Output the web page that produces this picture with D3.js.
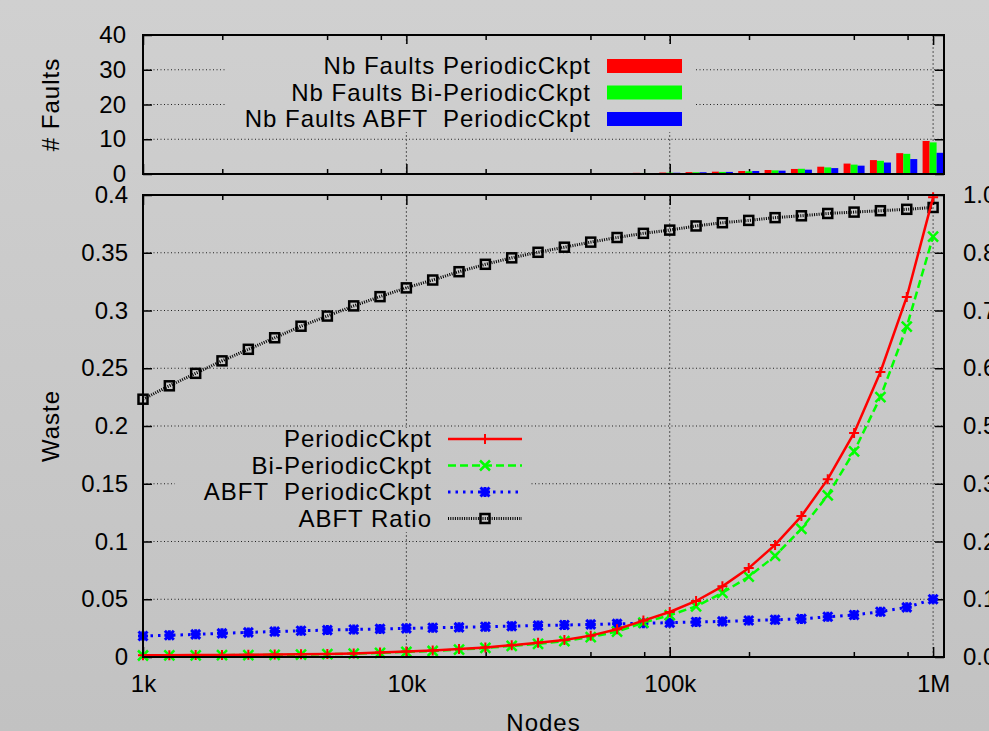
<!DOCTYPE html>
<html>
<head>
<meta charset="utf-8">
<script src="https://cdn.jsdelivr.net/npm/d3@7"></script>
<style>
  body { margin: 0; }
  svg { display: block; font-family: "Liberation Sans", Arial, sans-serif; }
  text { white-space: pre; }
</style>
</head>
<body>
<div class="chart"></div>
<script>
// nodes (x values) and series
let nodes = [1000, 1259, 1585, 1995, 2512, 3162, 3981, 5012, 6310, 7943,
             10000, 12589, 15849, 19953, 25119, 31623, 39811, 50119, 63096, 79433,
             100000, 125893, 158489, 199526, 251189, 316228, 398107, 501187, 630957, 794328, 1000000]

let wastePeriodic = [0.0015, 0.0016, 0.0017, 0.0018, 0.0019, 0.0021, 0.0023, 0.0026, 0.0031, 0.0038,
                     0.0048, 0.0057, 0.0069, 0.0083, 0.0102, 0.0123, 0.0148, 0.0185, 0.0240, 0.0315,
                     0.0390, 0.0485, 0.0612, 0.0770, 0.0970, 0.1220, 0.1540, 0.1940, 0.2468, 0.3117, 0.3980]
let wasteBiPeriodic = [0.0013, 0.0014, 0.0015, 0.0016, 0.0017, 0.0019, 0.0021, 0.0024, 0.0029, 0.0035,
                       0.0044, 0.0052, 0.0064, 0.0078, 0.0096, 0.0114, 0.0138, 0.0172, 0.0220, 0.0298,
                       0.0362, 0.0438, 0.0556, 0.0695, 0.0875, 0.1110, 0.1400, 0.1780, 0.2250, 0.2860, 0.3640]
let wasteAbft = [0.0182, 0.0188, 0.0196, 0.0205, 0.0213, 0.0220, 0.0227, 0.0233, 0.0238, 0.0243,
                 0.0248, 0.0253, 0.0257, 0.0262, 0.0267, 0.0272, 0.0277, 0.0282, 0.0287, 0.0292,
                 0.0297, 0.0303, 0.0308, 0.0316, 0.0322, 0.0330, 0.0348, 0.0364, 0.0392, 0.0430, 0.0500]
let abftRatio = [0.558, 0.587, 0.614, 0.641, 0.666, 0.691, 0.716, 0.738, 0.760, 0.780,
                 0.799, 0.816, 0.834, 0.850, 0.864, 0.876, 0.887, 0.898, 0.908, 0.917,
                 0.924, 0.933, 0.940, 0.945, 0.951, 0.955, 0.960, 0.963, 0.966, 0.969, 0.973]

let faultsPeriodic = [0.002, 0.003, 0.004, 0.005, 0.007, 0.009, 0.012, 0.016, 0.021, 0.027,
                      0.035, 0.045, 0.058, 0.075, 0.095, 0.12, 0.16, 0.2, 0.26, 0.33,
                      0.42, 0.55, 0.67, 0.86, 1.15, 1.45, 2.1, 3.0, 4.0, 6.0, 9.5]
let faultsBiPeriodic = [0.002, 0.003, 0.004, 0.005, 0.006, 0.008, 0.011, 0.015, 0.019, 0.025,
                        0.032, 0.041, 0.053, 0.069, 0.087, 0.11, 0.15, 0.18, 0.24, 0.3,
                        0.39, 0.5, 0.6, 0.77, 1.05, 1.5, 1.9, 2.7, 3.8, 5.8, 9.1]
let faultsAbft = [0.002, 0.003, 0.004, 0.005, 0.006, 0.008, 0.011, 0.014, 0.018, 0.023,
                  0.03, 0.038, 0.05, 0.064, 0.08, 0.1, 0.13, 0.17, 0.22, 0.28,
                  0.36, 0.5, 0.6, 0.86, 0.96, 1.24, 1.7, 2.4, 3.3, 4.3, 6.1]

let xTicks = [1000, 10000, 100000, 1000000]
let xTickLabels = ['1k', '10k', '100k', '1M']
let xMinor = [2000, 5000, 8000, 20000, 50000, 80000, 200000, 500000, 800000]
let yTicks = [0, 0.05, 0.1, 0.15, 0.2, 0.25, 0.3, 0.35, 0.4]
let yTickLabels = ['0', '0.05', '0.1', '0.15', '0.2', '0.25', '0.3', '0.35', '0.4']
let y2Ticks = [0, 0.125, 0.25, 0.375, 0.5, 0.625, 0.75, 0.875, 1]
let y2TickLabels = ['0.0', '0.1', '0.2', '0.3', '0.5', '0.6', '0.7', '0.8', '1.0']
let faultTicks = [0, 10, 20, 30, 40]

let width = 989
let height = 731
let left = 143, right = 944
let mainTop = 195, mainBottom = 657
let topTop = 35, topBottom = 174
let fs = 24

let svg = d3.select('.chart').append('svg')
    .attr('width', width).attr('height', height)

let grad = svg.append('defs').append('linearGradient')
    .attr('id', 'bg').attr('gradientUnits', 'userSpaceOnUse')
    .attr('x1', 0).attr('y1', 0).attr('x2', 0).attr('y2', height)
grad.append('stop').attr('offset', 0).attr('stop-color', '#d0d0d0')
grad.append('stop').attr('offset', 1).attr('stop-color', '#c2c2c2')

svg.append('rect').attr('width', width).attr('height', height).attr('fill', 'url(#bg)')

let x = d3.scaleLog().domain([1000, 1100000]).range([left, right])
let y = d3.scaleLinear().domain([0, 0.4]).range([mainBottom, mainTop])
let y2 = d3.scaleLinear().domain([0, 1]).range([mainBottom, mainTop])
let yf = d3.scaleLinear().domain([0, 40]).range([topBottom, topTop])

// ---------- grids ----------
function hgrid(vals, scale, x0) {
  svg.append('g').selectAll('line').data(vals).enter().append('line')
    .attr('x1', x0).attr('x2', right)
    .attr('y1', d => scale(d)).attr('y2', d => scale(d))
    .attr('stroke', '#222').attr('stroke-width', 1).attr('stroke-dasharray', '1,2.5')
}
function vgrid(y0, y1) {
  svg.append('g').selectAll('line').data(xTicks.slice(1)).enter().append('line')
    .attr('x1', d => x(d)).attr('x2', d => x(d))
    .attr('y1', y0).attr('y2', y1)
    .attr('stroke', '#555').attr('stroke-width', 1).attr('stroke-dasharray', '2,2')
}
hgrid(yTicks.slice(1, -1), y, left)
vgrid(mainTop, mainBottom)
hgrid([10, 20, 30], yf, left)
vgrid(topTop, topBottom)

// ---------- axes (gnuplot-like inward ticks) ----------
function styleAxis(g) {
  g.select('.domain').remove()
  g.selectAll('line').attr('stroke', '#000').attr('stroke-width', 1.5)
  g.selectAll('text').attr('font-size', fs).attr('fill', '#000')
}
function xAxes(yBase, yTopBase, labels) {
  let b = svg.append('g').attr('transform', `translate(0,${yBase})`)
    .call(d3.axisBottom(x).tickValues(xTicks).tickSize(-10).tickSizeOuter(0)
      .tickFormat((d, i) => labels ? xTickLabels[i] : ''))
  styleAxis(b)
  b.selectAll('text').attr('y', 35).attr('dy', null)
  let bm = svg.append('g').attr('transform', `translate(0,${yBase})`)
    .call(d3.axisBottom(x).tickValues(xMinor).tickSize(-5).tickSizeOuter(0).tickFormat(''))
  styleAxis(bm)
  let t = svg.append('g').attr('transform', `translate(0,${yTopBase})`)
    .call(d3.axisTop(x).tickValues(xTicks).tickSize(-10).tickSizeOuter(0).tickFormat(''))
  styleAxis(t)
  let tm = svg.append('g').attr('transform', `translate(0,${yTopBase})`)
    .call(d3.axisTop(x).tickValues(xMinor).tickSize(-5).tickSizeOuter(0).tickFormat(''))
  styleAxis(tm)
}
xAxes(mainBottom, mainTop, true)
xAxes(topBottom, topTop, false)

let yl = svg.append('g').attr('transform', `translate(${left},0)`)
  .call(d3.axisLeft(y).tickValues(yTicks).tickSize(-9).tickSizeOuter(0)
    .tickFormat((d, i) => yTickLabels[i]).tickPadding(15))
styleAxis(yl)

let yr = svg.append('g').attr('transform', `translate(${right},0)`)
  .call(d3.axisRight(y2).tickValues(y2Ticks).tickSize(-9).tickSizeOuter(0)
    .tickFormat((d, i) => y2TickLabels[i]).tickPadding(19))
styleAxis(yr)

let fl = svg.append('g').attr('transform', `translate(${left},0)`)
  .call(d3.axisLeft(yf).tickValues(faultTicks).tickSize(-9).tickSizeOuter(0).tickPadding(17))
styleAxis(fl)
let fr = svg.append('g').attr('transform', `translate(${right},0)`)
  .call(d3.axisRight(yf).tickValues(faultTicks).tickSize(-9).tickSizeOuter(0).tickFormat(''))
styleAxis(fr)

// ---------- bars ----------
let barW = 7
let barSeries = [
  { vals: faultsPeriodic, color: '#ff0000', off: -1 },
  { vals: faultsBiPeriodic, color: '#00ff00', off: 0 },
  { vals: faultsAbft, color: '#0000ff', off: 1 }
]
barSeries.forEach(s => {
  svg.append('g').selectAll('rect').data(nodes).enter().append('rect')
    .attr('x', (d) => x(d) + s.off * barW - barW / 2)
    .attr('width', barW)
    .attr('y', (d, i) => yf(s.vals[i]))
    .attr('height', (d, i) => yf(0) - yf(s.vals[i]))
    .attr('fill', s.color)
})

// ---------- lines ----------
function symbol(g, type, color) {
  if (type === 'plus') {
    g.append('path').attr('d', 'M-5,0H5M0,-5V5').attr('stroke', color).attr('stroke-width', 2).attr('fill', 'none')
  } else if (type === 'cross') {
    g.append('path').attr('d', 'M-5,-5L5,5M-5,5L5,-5').attr('stroke', color).attr('stroke-width', 2.5).attr('fill', 'none')
  } else if (type === 'star') {
    g.append('path').attr('d', 'M-5,0H5M0,-5V5M-4.5,-4.5L4.5,4.5M-4.5,4.5L4.5,-4.5')
      .attr('stroke', color).attr('stroke-width', 3).attr('fill', 'none')
  } else {
    g.append('rect').attr('x', -4.5).attr('y', -4.5).attr('width', 9).attr('height', 9)
      .attr('stroke', color).attr('stroke-width', 2.5).attr('fill', 'none')
  }
}

let series = [
  { name: 'PeriodicCkpt', vals: wastePeriodic, scale: y, color: '#ff0000', dash: null, w: 2.5, sym: 'plus' },
  { name: 'Bi-PeriodicCkpt', vals: wasteBiPeriodic, scale: y, color: '#00ff00', dash: '8,4', w: 2.5, sym: 'cross' },
  { name: 'ABFT  PeriodicCkpt', vals: wasteAbft, scale: y, color: '#0000ff', dash: '2.5,5', w: 3, sym: 'star' },
  { name: 'ABFT Ratio', vals: abftRatio, scale: y2, color: '#000000', dash: '1,1.3', w: 3, sym: 'square' }
]

// legend boxes (opaque, drawn before the curves)
svg.append('rect').attr('x', 175).attr('y', 428).attr('width', 356).attr('height', 104).attr('fill', 'url(#bg)')
svg.append('rect').attr('x', 225).attr('y', 44).attr('width', 470).attr('height', 88).attr('fill', 'url(#bg)')

series.slice().reverse().forEach(s => {
  let line = d3.line().x(d => x(d)).y((d, i) => s.scale(s.vals[i]))
  svg.append('path').datum(nodes)
    .attr('d', line)
    .attr('fill', 'none')
    .attr('stroke', s.color)
    .attr('stroke-width', s.w)
    .attr('stroke-dasharray', s.dash)
  nodes.forEach((d, i) => {
    let g = svg.append('g').attr('transform', `translate(${x(d)},${s.scale(s.vals[i])})`)
    symbol(g, s.sym, s.color)
  })
})

// ---------- borders ----------
svg.append('rect').attr('x', left).attr('y', mainTop).attr('width', right - left).attr('height', mainBottom - mainTop)
  .attr('fill', 'none').attr('stroke', '#000').attr('stroke-width', 2)
svg.append('rect').attr('x', left).attr('y', topTop).attr('width', right - left).attr('height', topBottom - topTop)
  .attr('fill', 'none').attr('stroke', '#000').attr('stroke-width', 2)

// ---------- legends ----------
let rowY = [439, 465.5, 492, 518.5]
series.forEach((s, i) => {
  svg.append('text').attr('x', 432).attr('y', rowY[i]).attr('dy', '0.35em')
    .attr('text-anchor', 'end').attr('font-size', fs).attr('letter-spacing', 1).text(s.name)
  svg.append('line').attr('x1', 448).attr('x2', 522).attr('y1', rowY[i]).attr('y2', rowY[i])
    .attr('stroke', s.color).attr('stroke-width', s.w).attr('stroke-dasharray', s.dash)
  let g = svg.append('g').attr('transform', `translate(485,${rowY[i]})`)
  symbol(g, s.sym, s.color)
})

let barNames = ['Nb Faults PeriodicCkpt', 'Nb Faults Bi-PeriodicCkpt', 'Nb Faults ABFT  PeriodicCkpt']
let barRowY = [66, 92.5, 119]
barSeries.forEach((s, i) => {
  svg.append('text').attr('x', 591).attr('y', barRowY[i]).attr('dy', '0.35em')
    .attr('text-anchor', 'end').attr('font-size', fs).attr('letter-spacing', 1)
    .text(barNames[i])
  svg.append('rect').attr('x', 607).attr('y', barRowY[i] - 7).attr('width', 75).attr('height', 14)
    .attr('fill', s.color)
})

// ---------- axis titles ----------
svg.append('text').attr('transform', 'translate(59,426) rotate(-90)')
  .attr('text-anchor', 'middle').attr('font-size', fs).attr('letter-spacing', 1).text('Waste')
svg.append('text').attr('transform', 'translate(59,104.5) rotate(-90)')
  .attr('text-anchor', 'middle').attr('font-size', fs).attr('letter-spacing', 1).text('# Faults')
svg.append('text').attr('x', 543.5).attr('y', 731)
  .attr('text-anchor', 'middle').attr('font-size', fs).attr('letter-spacing', 1).text('Nodes')
</script>
</body>
</html>
